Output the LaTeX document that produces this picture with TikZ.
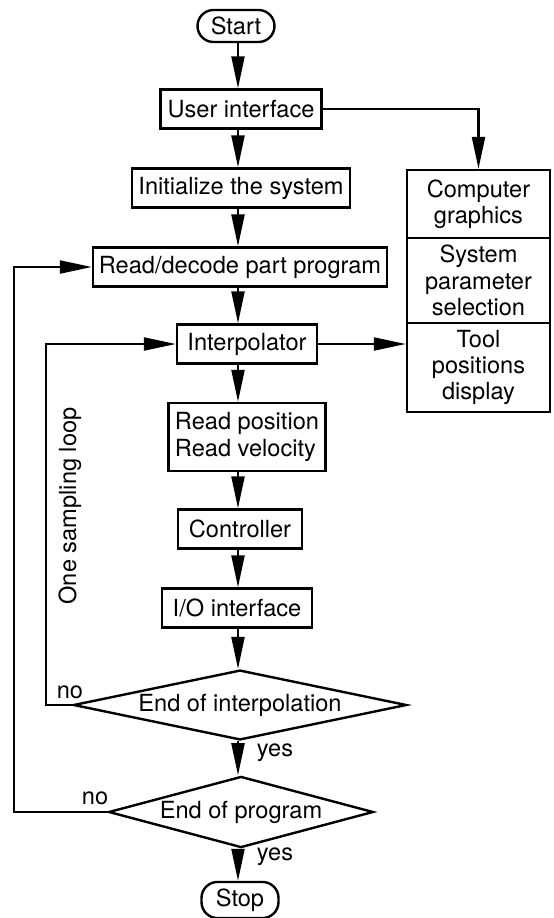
\documentclass[tikz,border=0pt]{standalone}
\usepackage{fontspec}
\setmainfont{TeX Gyre Heros}
\usetikzlibrary{arrows.meta,shapes.geometric}

\tikzset{
  box/.style={draw, line width=1.2pt, minimum height=19.5pt, inner xsep=2.5pt},
  term/.style={draw, line width=1.2pt, rounded corners=8pt, minimum width=38.5pt, minimum height=16pt},
  decision/.style={draw, diamond, line width=1.2pt, inner sep=1pt},
  panel/.style={draw, line width=1.2pt, text width=68pt, align=center, minimum width=71.5pt, inner sep=0pt},
  flow/.style={line width=1.1pt, -{Triangle[length=16pt,width=6.5pt]}},
}

\begin{document}
\begin{tikzpicture}[x=0.5pt, y=-0.5pt, font=\fontsize{11.8pt}{13.2pt}\selectfont]

    \useasboundingbox (0,0) rectangle (553,918);

    %% Main flow
    \node[term] (start) at (236,26) {Start};
    \node[box, minimum width=80.5pt] (user) at (241,109) {User interface};
    \node[box, minimum width=109pt] (init) at (241,188) {Initialize the system};
    \node[box, minimum width=147pt] (decode) at (240,267) {Read/decode part program};
    \node[box, minimum width=70pt] (interp) at (247,344) {Interpolator};
    \node[box, align=left, minimum width=78.5pt, minimum height=34pt] (readpos) at (247,437) {Read position\\Read velocity};
    \node[box, minimum width=62pt] (ctrl) at (240,529) {Controller};
    \node[box, minimum width=75pt] (io) at (237,608) {I/O interface};
    \node[decision, minimum width=155pt, minimum height=32.5pt, shape aspect=4.77] (endint) at (240,705) {End of interpolation};
    \node[decision, minimum width=126.5pt, minimum height=34pt, shape aspect=3.72] (endprog) at (241,812) {End of program};
    \node[term, minimum height=17.5pt] (stop) at (240,900) {Stop};

    % Display panel
    \node[panel, minimum height=34pt] (graphics) at (478.5,204) {Computer graphics};
    \node[panel, minimum height=42.5pt] (param) at (478.5,280.5) {System parameter selection};
    \node[panel, minimum height=44.5pt] (tool) at (478.5,367.5) {Tool positions display};

    % Arrows down the spine
    \coordinate (spine) at (238,0);
    \draw[flow] (spine |- start.south) -- (spine |- user.north);
    \draw[flow] (spine |- user.south) -- (spine |- init.north);
    \draw[flow] (spine |- init.south) -- (spine |- decode.north);
    \draw[flow] (spine |- decode.south) -- (spine |- interp.north);
    \draw[flow] (spine |- interp.south) -- (spine |- readpos.north);
    \draw[flow] (spine |- readpos.south) -- (spine |- ctrl.north);
    \draw[flow] (spine |- ctrl.south) -- (spine |- io.north);
    \draw[flow] (spine |- io.south) -- (spine |- endint.north);
    \draw[flow] (spine |- endint.south) -- (spine |- endprog.north);
    \draw[flow] (spine |- endprog.south) -- (spine |- stop.north);

    % Side arrows
    \draw[flow] (user.east) -| (graphics.north);
    \draw[flow] (interp.east) -- (interp.east -| tool.west);

    % Loops
    \coordinate (inloop) at (46,344);
    \coordinate (outloop) at (14,267);
    \draw[flow] (endint.west) -| (inloop) -- (interp.west);
    \draw[flow] (endprog.west) -| (outloop) -- (decode.west);

    % Labels
    \node (no1) at (70,692) {no};
    \node (no2) at (95,798) {no};
    \node (yes1) at (275,753) {yes};
    \node (yes2) at (275,857) {yes};
    \node[rotate=90] (loopnote) at (70,506) {One sampling loop};

\end{tikzpicture}
\end{document}
